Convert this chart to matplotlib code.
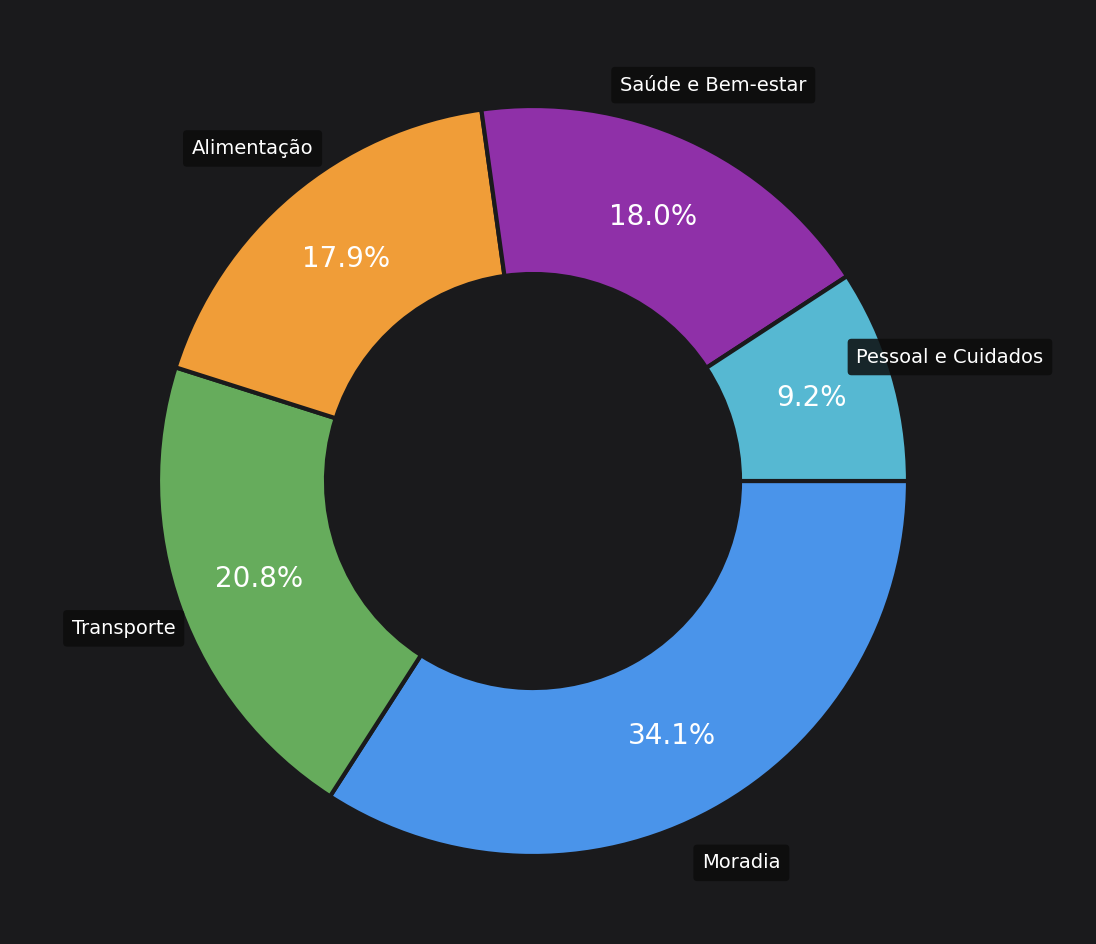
import matplotlib
matplotlib.use("Agg")
import matplotlib.pyplot as plt

categories = ["Moradia", "Transporte", "Alimentação", "Saúde e Bem-estar", "Pessoal e Cuidados"]
values = [34.1, 20.8, 17.9, 18.0, 9.2]
colors = ["#4a94ea", "#66ac5c", "#f09d38", "#8f30a8", "#56b8d2"]

bg = "#1a1a1c"
fig = plt.figure(figsize=(10.96, 9.44), dpi=100, facecolor=bg)
ax = fig.add_axes([0, 0, 1, 1])
ax.set_facecolor(bg)
ax.set_xlim(0, 1096)
ax.set_ylim(0, 944)
ax.set_aspect("equal")
ax.axis("off")

wedges, texts, autotexts = ax.pie(
    values, colors=colors, labels=categories, autopct="%.1f%%",
    startangle=0, counterclock=False, center=(533, 944 - 481), radius=375,
    pctdistance=0.775, labeldistance=1.16,
    wedgeprops=dict(width=168, edgecolor=bg, linewidth=3),
    textprops=dict(color="white"), frame=True)
ax.set_xlim(0, 1096)
ax.set_ylim(0, 944)
ax.axis("off")
for t in texts:
    t.set_fontsize(14)
    t.set_ha("center")
    t.set_va("center")
    t.set_bbox(dict(boxstyle="round,pad=0.45,rounding_size=0.2", fc="#0c0c0c", ec="none", alpha=0.85))
for t in autotexts:
    t.set_fontsize(20)
    t.set_fontweight("medium")
fig.savefig("out.png", dpi=100, facecolor=bg)
